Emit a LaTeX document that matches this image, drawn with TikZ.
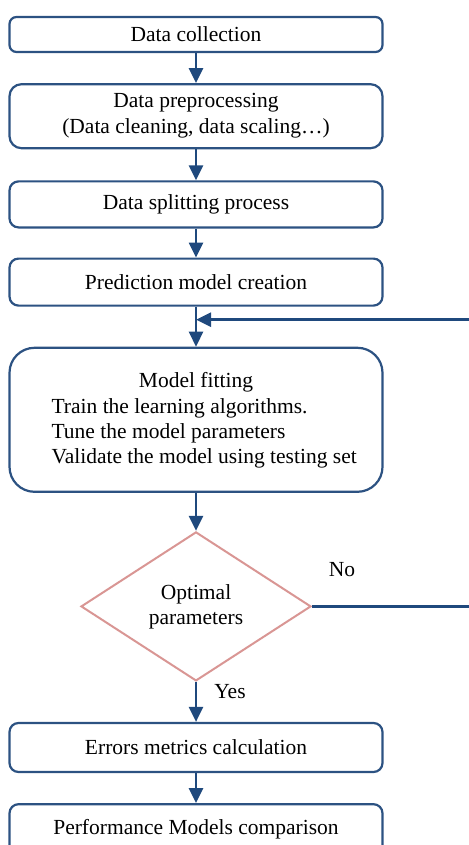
\documentclass[tikz,border=0pt]{standalone}
\usepackage{fontspec}
\setmainfont{Liberation Serif}
\usetikzlibrary{arrows.meta, positioning, shapes.geometric}
\definecolor{boxblue}{RGB}{44,82,130}
\definecolor{arrowblue}{RGB}{31,73,125}
\definecolor{diapink}{RGB}{217,150,148}

\begin{document}
\begin{tikzpicture}[
    x=1pt, y=1pt,
    node distance=30pt,
    box/.style={rectangle, draw=boxblue, line width=2.2pt, fill=white, rounded corners=7pt,
                minimum width=373pt, align=center, font=\fontsize{21.5}{26}\selectfont},
    decision/.style={diamond, draw=diapink, line width=2pt, minimum width=230pt, minimum height=149pt,
                inner sep=0pt, align=center, font=\fontsize{21.5}{25}\selectfont},
    txt/.style={inner sep=0pt, font=\fontsize{21.5}{25}\selectfont},
    arrow/.style={-{Triangle[length=15pt,width=14pt]}, line width=2.6pt, arrowblue}
]
\useasboundingbox (0,0) rectangle (468,-845);
\node[box, minimum height=35pt] (collect) at (196,-34.5) {Data collection};
\node[box, minimum height=64pt, rounded corners=12pt, below=30pt of collect] (prep) {Data preprocessing\\(Data cleaning, data scaling…)};
\node[box, minimum height=46pt, rounded corners=9pt, below=31pt of prep] (split) {Data splitting process};
\node[box, minimum height=47pt, rounded corners=9pt, below=29pt of split] (pred) {Prediction model creation};
\node[box, minimum height=144pt, rounded corners=25pt, below=40pt of pred] (fit) {};
\node[txt] (fittitle) at ([yshift=-36pt]fit.north) {Model fitting};
\node[txt, align=left, anchor=west] (fitsteps) at ([xshift=43pt,yshift=-14pt]fit.west) {Train the learning algorithms.\\Tune the model parameters\\Validate the model using testing set};
\node[decision, below=38pt of fit] (decide) {Optimal\\parameters};
\node[box, minimum height=49pt, rounded corners=9pt, below=40pt of decide] (errors) {Errors metrics calculation};
\node[box, minimum height=50pt, rounded corners=9pt, below=30pt of errors] (perf) {Performance Models comparison};

\draw[arrow] (collect)--(prep);
\draw[arrow] (prep)--(split);
\draw[arrow] (split)--(pred);
\draw[arrow] (pred)--(fit);
\draw[arrow] (fit)--(decide);
\draw[arrow] (decide)--(errors);
\draw[arrow] (errors)--(perf);

% loop back when not optimal
\coordinate[below=13pt of pred] (merge);
\draw[arrow] (decide.east) -- ++(162,0) |- (merge);
\node[txt] (yes) at (230,-692) {Yes};
\node[txt] (no) at (342,-570) {No};
\end{tikzpicture}
\end{document}
